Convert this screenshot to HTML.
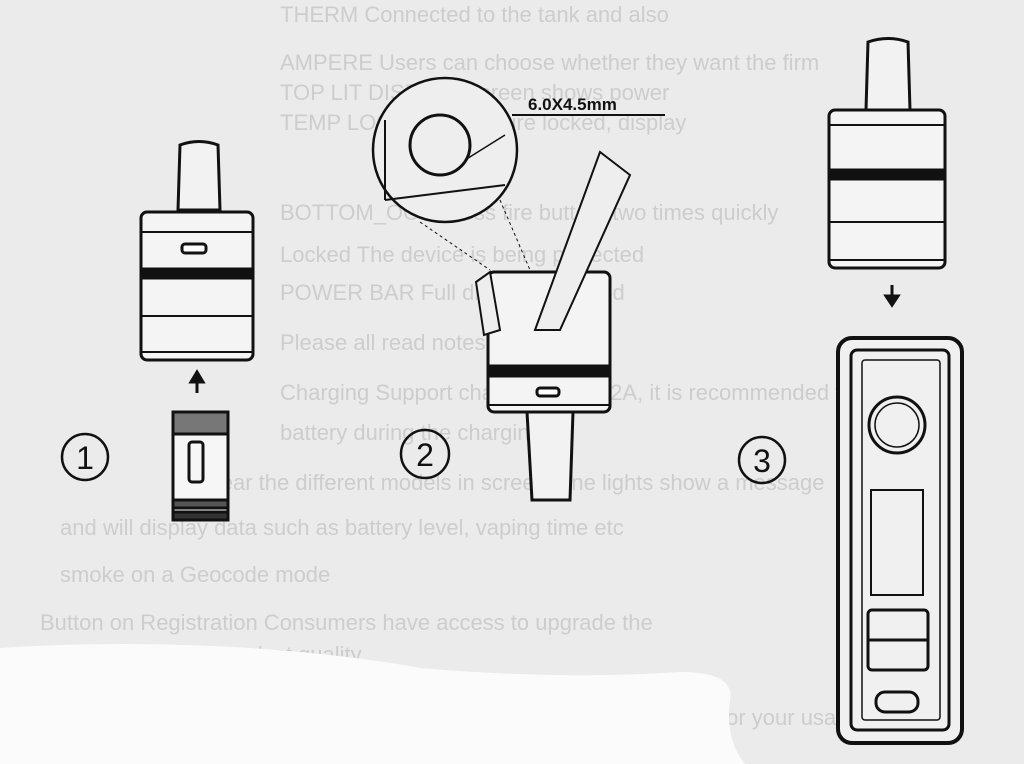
<!DOCTYPE html>
<html><head><meta charset="utf-8"><style>
html,body{margin:0;padding:0;background:#ececec;width:1024px;height:764px;overflow:hidden}
svg{display:block}
.bt{font-family:"Liberation Sans",sans-serif;font-size:22px;fill:#cdcdcd}
</style></head><body>
<svg width="1024" height="764" viewBox="0 0 1024 764" xmlns="http://www.w3.org/2000/svg">
<rect width="1024" height="764" fill="#ebebeb"/>
<g class="bt">
<text x="280" y="22">THERM  Connected  to the tank and also</text>
<text x="280" y="70">AMPERE  Users can choose whether they want the firm</text>
<text x="280" y="100">TOP LIT DISPLAY  Screen shows power</text>
<text x="280" y="130">TEMP LOCK  Temperature locked, display</text>
<text x="280" y="220">BOTTOM_OCK  Press fire button, two times quickly</text>
<text x="280" y="262">Locked  The device is being protected</text>
<text x="280" y="300">POWER BAR  Full display indicated</text>
<text x="280" y="350">Please all read notes</text>
<text x="280" y="400">Charging  Support charge with 5V/2A, it is recommended to use</text>
<text x="280" y="440">battery during the charging</text>
<text x="200" y="490">Clear the different models in screen, one lights show a message</text>
<text x="60" y="535">and will display data such as battery level, vaping time etc</text>
<text x="60" y="582">smoke on a Geocode mode</text>
<text x="40" y="630">Button on Registration  Consumers have access to upgrade the</text>
<text x="40" y="662">software and also product quality</text>
<text x="720" y="725">for your usage</text>
</g>
<path d="M0 648 Q120 640 250 648 Q350 655 420 668 Q560 680 680 672 Q735 672 730 700 Q725 740 745 764 L0 764 Z" fill="#fbfbfb"/>
<g fill="none" stroke="#111" stroke-width="3">
<!-- pod 1 -->
<path d="M180 145 Q199 138 218 145 L220 210 L178 210 Z" fill="#f2f2f2"/>
<rect x="141" y="212" width="112" height="148" rx="6" fill="#f4f4f4"/>
<line x1="141" y1="232" x2="253" y2="232" stroke-width="2"/>
<rect x="141" y="269" width="112" height="9" fill="#111"/>
<line x1="141" y1="316" x2="253" y2="316" stroke-width="2"/>
<line x1="141" y1="352" x2="253" y2="352" stroke-width="2"/>
<rect x="182" y="244" width="24" height="9" rx="3" fill="#fff"/>
<line x1="197" y1="373" x2="197" y2="393"/>
<path d="M191 382 L197 372 L203 382Z" fill="#111"/>
<rect x="173" y="412" width="55" height="105" rx="3" fill="#f6f6f6"/>
<rect x="173" y="412" width="55" height="22" fill="#777"/>
<rect x="189" y="442" width="14" height="40" rx="3"/>
<rect x="173" y="500" width="55" height="8" fill="#555"/>
<rect x="173" y="512" width="55" height="8" fill="#333"/>
<circle cx="85" cy="457" r="23" stroke-width="2.5"/>
<circle cx="425" cy="454" r="24" stroke-width="2.5"/>
<circle cx="762" cy="460" r="23" stroke-width="2.5"/>
<!-- pod 2 -->
<rect x="488" y="272" width="122" height="140" rx="6" fill="#f4f4f4"/>
<rect x="488" y="366" width="122" height="10" fill="#111"/>
<line x1="488" y1="405" x2="610" y2="405" stroke-width="2"/>
<rect x="537" y="388" width="22" height="8" rx="3" fill="#fff"/>
<path d="M527 412 L573 412 L570 500 L532 500 Z" fill="#f2f2f2"/>
<path d="M476 282 L490 272 L500 330 L484 335 Z" fill="#eee" stroke-width="2"/>
<circle cx="445" cy="150" r="72" stroke-width="2.5" fill="#eee"/>
<circle cx="440" cy="145" r="30" stroke-width="3"/>
<path d="M385 120 L385 200 M385 200 L505 185" stroke-width="2"/>
<line x1="465" y1="160" x2="505" y2="135" stroke-width="1.5"/>
<line x1="512" y1="115" x2="665" y2="115" stroke-width="2"/>
<path d="M535 330 L600 152 L630 175 L560 330 Z" fill="#eee" stroke-width="2"/>
<path d="M420 222 L490 270 M500 200 L530 270" stroke-width="1" stroke-dasharray="3 3"/>
<!-- pod 3 -->
<path d="M868 42 Q888 35 908 42 L910 110 L866 110 Z" fill="#f2f2f2"/>
<rect x="829" y="110" width="116" height="158" rx="6" fill="#f4f4f4"/>
<line x1="829" y1="125" x2="945" y2="125" stroke-width="2"/>
<rect x="829" y="170" width="116" height="9" fill="#111"/>
<line x1="829" y1="222" x2="945" y2="222" stroke-width="2"/>
<line x1="829" y1="260" x2="945" y2="260" stroke-width="2"/>
<line x1="892" y1="285" x2="892" y2="300"/>
<path d="M886 296 L892 305 L898 296Z" fill="#111"/>
<!-- device -->
<rect x="838" y="338" width="124" height="405" rx="14" stroke-width="4" fill="#f0f0f0"/>
<rect x="851" y="350" width="98" height="380" rx="6" stroke-width="3"/>
<rect x="862" y="360" width="78" height="360" rx="3" stroke-width="1.5"/>
<circle cx="897" cy="425" r="28" stroke-width="3"/>
<circle cx="897" cy="425" r="22" stroke-width="1.5"/>
<rect x="871" y="490" width="52" height="105" stroke-width="2"/>
<rect x="868" y="610" width="60" height="60" rx="4" stroke-width="3"/>
<line x1="868" y1="640" x2="928" y2="640" stroke-width="3"/>
<rect x="876" y="692" width="42" height="20" rx="9" stroke-width="3"/>
</g>
<g font-family="Liberation Sans,sans-serif" fill="#111">
<text x="528" y="110" font-size="17" font-weight="bold">6.0X4.5mm</text>
<text x="85" y="469" font-size="32" text-anchor="middle">1</text>
<text x="425" y="466" font-size="32" text-anchor="middle">2</text>
<text x="762" y="472" font-size="32" text-anchor="middle">3</text>
</g>
</svg>
</body></html>
